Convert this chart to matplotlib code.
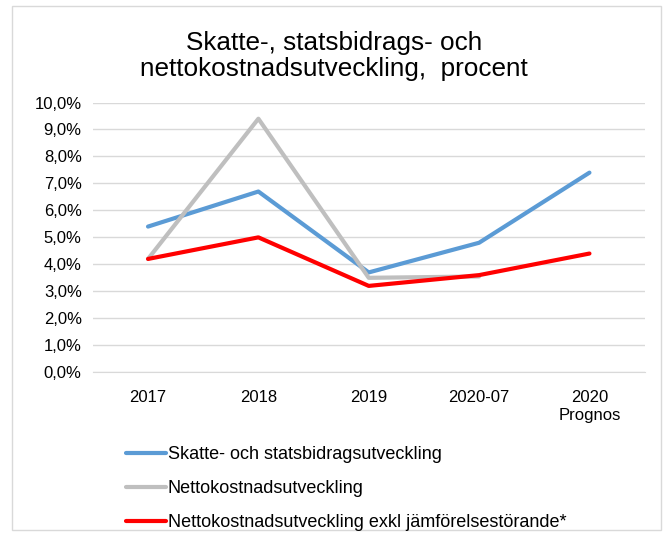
import matplotlib.pyplot as plt
from matplotlib.patches import Rectangle
from matplotlib.ticker import FuncFormatter
import numpy as np

plt.rcParams['font.family'] = ['Liberation Sans', 'DejaVu Sans']

categories = ['2017', '2018', '2019', '2020-07', '2020\nPrognos']
skatte = [5.4, 6.7, 3.7, 4.8, 7.4]
netto = [4.2, 9.4, 3.5, 3.55]
netto_exkl = [4.2, 5.0, 3.2, 3.6, 4.4]

fig = plt.figure(figsize=(6.68, 5.34), dpi=100)
ax = fig.add_axes([0.139, 0.303, 0.826, 0.505])

x = np.arange(len(categories))
ax.plot(x, skatte, color='#5b9bd5', lw=3, solid_capstyle='round',
        label='Skatte- och statsbidragsutveckling')
ax.plot(x[:len(netto)], netto, color='#bfbfbf', lw=3, solid_capstyle='round',
        label='Nettokostnadsutveckling')
ax.plot(x, netto_exkl, color='#ff0000', lw=3, solid_capstyle='round',
        label='Nettokostnadsutveckling exkl jämförelsestörande*')

ax.set_xlim(-0.5, 4.5)
ax.set_ylim(0, 10)
ax.set_yticks(np.arange(0, 10.5, 1))
ax.yaxis.set_major_formatter(FuncFormatter(lambda v, p: f'{v:.1f}%'.replace('.', ',')))
ax.set_xticks(x)
ax.set_xticklabels(categories, fontsize=12)
ax.tick_params(axis='y', labelsize=12, length=0, pad=8)
ax.tick_params(axis='x', length=0, pad=13)
ax.grid(axis='y', color='#d9d9d9', lw=1)
ax.set_axisbelow(True)
for s in ax.spines.values():
    s.set_visible(False)
ax.spines['bottom'].set_visible(True)
ax.spines['bottom'].set_color('#d9d9d9')

fig.text(0.5, 0.895, 'Skatte-, statsbidrags- och\nnettokostnadsutveckling,  procent',
         ha='center', va='center', fontsize=18.8, linespacing=1.15)

fig.legend(loc='upper left', bbox_to_anchor=(0.165, 0.195), frameon=False,
           fontsize=13, handlelength=2.2, handletextpad=0.1, labelspacing=0.95)

fig.patches.append(Rectangle((0.018, 0.008), 0.972, 0.98, transform=fig.transFigure,
                             fill=False, edgecolor='#d9d9d9', lw=1))

fig.savefig('out.png', dpi=100)
